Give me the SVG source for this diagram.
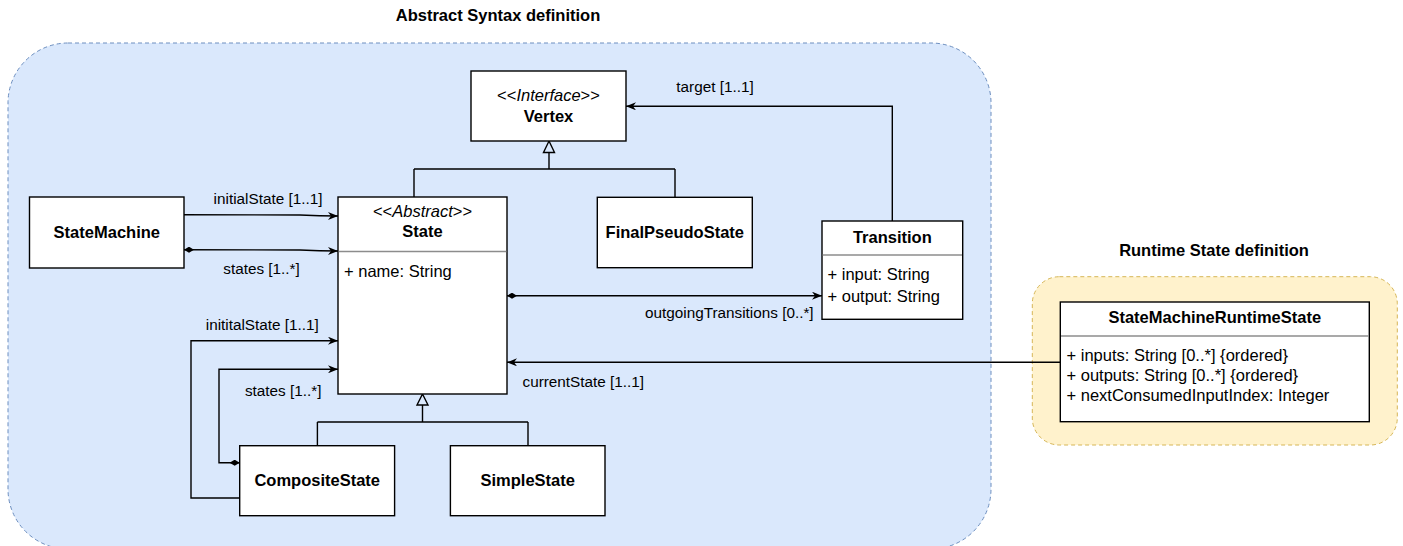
<svg xmlns="http://www.w3.org/2000/svg" width="1403" height="546" viewBox="0 0 1403 546">
<style>
  text { font-family: "Liberation Sans", Arial, Helvetica, sans-serif; fill: #000; }
  .title { font-size: 16.5px; font-weight: bold; text-anchor: middle; }
  .cls { font-size: 16.5px; font-weight: bold; text-anchor: middle; }
  .ster { font-size: 16.5px; text-anchor: middle; }
  .attr { font-size: 16.5px; }
  .lbl { font-size: 15.3px; text-anchor: middle; }
  .box { fill: #fff; stroke: #000; stroke-width: 1.4; }
  .sep { stroke: #8c8c8c; stroke-width: 1.6; }
  .edge { fill: none; stroke: #000; stroke-width: 1.4; }
  .tri { fill: none; stroke: #000; stroke-width: 1.4; stroke-linejoin: miter; }
</style>
<defs>
  <marker id="arrow" markerUnits="userSpaceOnUse" viewBox="0 0 10 8" refX="10" refY="4" markerWidth="10" markerHeight="8" orient="auto">
    <path d="M0,0 L10,4 L0,8 L3,4 Z" fill="#000"/>
  </marker>
  <marker id="diamond" markerUnits="userSpaceOnUse" viewBox="0 0 10 6" refX="0" refY="3" markerWidth="10" markerHeight="6" orient="auto">
    <path d="M0,3 L5,0 L10,3 L5,6 Z" fill="#000"/>
  </marker>
</defs>

<!-- containers -->
<g id="abstract-syntax-container">
  <rect x="8" y="43" width="983" height="506" rx="60" ry="60" fill="#dae8fc" stroke="#6c8ebf" stroke-width="1" stroke-dasharray="4 3"/>
  <text class="title" x="498" y="21">Abstract Syntax definition</text>
</g>
<g id="runtime-state-container">
  <rect x="1032.3" y="276.7" width="365" height="168.3" rx="27" ry="27" fill="#fff2cc" stroke="#d6b656" stroke-width="1" stroke-dasharray="4 3"/>
  <text class="title" x="1214" y="256">Runtime State definition</text>
</g>

<!-- connectors -->
<g id="connectors">
  <!-- generalization to Vertex -->
  <polygon class="tri" points="549,141 554.5,152.5 543.5,152.5"/>
  <path class="edge" d="M549,152.5 L549,169 M414,169 L675,169 M414,169 L414,197 M675,169 L675,197.3"/>
  <!-- generalization to State -->
  <polygon class="tri" points="422.5,394 428,405 417,405"/>
  <path class="edge" d="M422.5,405 L422.5,422 M317.4,422 L528,422 M317.4,422 L317.4,445.7 M528,422 L528,445.7"/>

  <!-- StateMachine -> State initialState -->
  <path class="edge" d="M184,214.7 L300,215 Q320,216 338,216" marker-end="url(#arrow)"/>
  <text class="lbl" x="268" y="204">initialState [1..1]</text>
  <!-- StateMachine -> State states -->
  <path class="edge" d="M184,249.7 L300,250 Q320,251 338,251" marker-start="url(#diamond)" marker-end="url(#arrow)"/>
  <text class="lbl" x="261.5" y="273.5">states [1..*]</text>

  <!-- CompositeState -> State inititalState -->
  <path class="edge" d="M239.7,498 L191,498 L191,340.7 L338,340.7" marker-end="url(#arrow)"/>
  <text class="lbl" x="262.3" y="330">inititalState [1..1]</text>
  <!-- CompositeState -> State states -->
  <path class="edge" d="M239.7,462.7 L219,462.7 L219,369.3 L338,369.3" marker-start="url(#diamond)" marker-end="url(#arrow)"/>
  <text class="lbl" x="283.2" y="395.5">states [1..*]</text>

  <!-- Transition -> Vertex target -->
  <path class="edge" d="M892.3,221 L892.3,106.3 L626,106.3" marker-end="url(#arrow)"/>
  <text class="lbl" x="715" y="91.5">target [1..1]</text>

  <!-- State -> Transition outgoingTransitions -->
  <path class="edge" d="M507,295.7 L822,295.7" marker-start="url(#diamond)" marker-end="url(#arrow)"/>
  <text class="lbl" x="729.3" y="318">outgoingTransitions [0..*]</text>

  <!-- StateMachineRuntimeState -> State currentState -->
  <path class="edge" d="M1060.3,362.3 L507,362.3" marker-end="url(#arrow)"/>
  <text class="lbl" x="583.3" y="386.5">currentState [1..1]</text>
</g>

<!-- nodes -->
<g id="vertex">
  <rect class="box" x="471" y="71" width="155" height="70"/>
  <text class="ster" x="548.5" y="101">&lt;&lt;<tspan font-style="italic">Interface</tspan>&gt;&gt;</text>
  <text class="cls" x="548.5" y="122">Vertex</text>
</g>

<g id="state-machine">
  <rect class="box" x="29.5" y="197" width="154.5" height="71"/>
  <text class="cls" x="106.8" y="237.5">StateMachine</text>
</g>

<g id="state">
  <rect class="box" x="338" y="197" width="169" height="197"/>
  <line class="sep" x1="338.7" y1="251.5" x2="506.3" y2="251.5"/>
  <text class="ster" x="422.5" y="217">&lt;&lt;<tspan font-style="italic">Abstract</tspan>&gt;&gt;</text>
  <text class="cls" x="422.5" y="237">State</text>
  <text class="attr" x="344" y="276.5">+ name: String</text>
</g>

<g id="final-pseudo-state">
  <rect class="box" x="597.3" y="197.3" width="155" height="70.4"/>
  <text class="cls" x="674.8" y="238">FinalPseudoState</text>
</g>

<g id="transition">
  <rect class="box" x="822" y="221" width="140.7" height="98.3"/>
  <line class="sep" x1="822.7" y1="255" x2="962" y2="255"/>
  <text class="cls" x="892.3" y="242.5">Transition</text>
  <text class="attr" x="827.5" y="280">+ input: String</text>
  <text class="attr" x="827.5" y="301.5">+ output: String</text>
</g>

<g id="composite-state">
  <rect class="box" x="239.7" y="445.7" width="154.9" height="70"/>
  <text class="cls" x="317.2" y="486">CompositeState</text>
</g>

<g id="simple-state">
  <rect class="box" x="450.4" y="445.7" width="154.6" height="70"/>
  <text class="cls" x="527.7" y="486">SimpleState</text>
</g>

<g id="state-machine-runtime-state">
  <rect class="box" x="1060.3" y="302" width="309" height="119.7"/>
  <line class="sep" x1="1061" y1="336" x2="1368.6" y2="336"/>
  <text class="cls" x="1214.8" y="323">StateMachineRuntimeState</text>
  <text class="attr" x="1066.5" y="360.5">+ inputs: String [0..*] {ordered}</text>
  <text class="attr" x="1066.5" y="380.7">+ outputs: String [0..*] {ordered}</text>
  <text class="attr" x="1066.5" y="400.7">+ nextConsumedInputIndex: Integer</text>
</g>
</svg>
